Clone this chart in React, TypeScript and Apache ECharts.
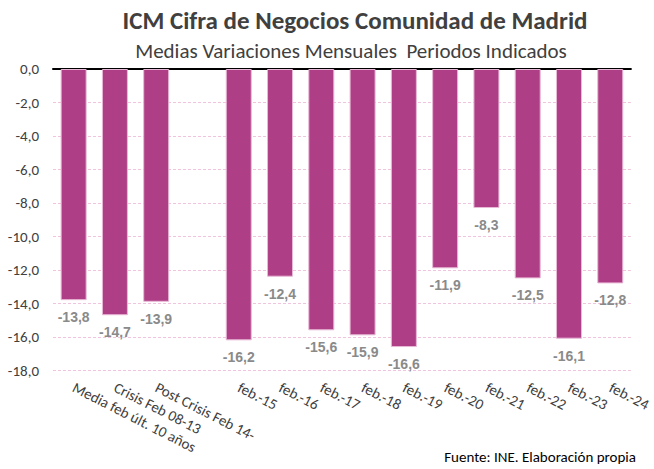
import React, { useEffect, useRef } from "react";
import * as echarts from "echarts";

const categories = [
  "Media feb últ. 10 años",
  "Crisis Feb 08-13",
  "Post Crisis Feb 14-",
  "",
  "feb.-15",
  "feb.-16",
  "feb.-17",
  "feb.-18",
  "feb.-19",
  "feb.-20",
  "feb.-21",
  "feb.-22",
  "feb.-23",
  "feb.-24",
];
const values: (number | null)[] = [
  -13.8, -14.7, -13.9, null, -16.2, -12.4, -15.6, -15.9, -16.6, -11.9, -8.3, -12.5, -16.1, -12.8,
];
const titleText = "ICM Cifra de Negocios Comunidad de Madrid";
const subtitleText = "Medias Variaciones Mensuales  Periodos Indicados";
const sourceText = "Fuente: INE. Elaboración propia";

const FONT = "Carlito, 'Liberation Sans Narrow', 'Open Sans', sans-serif";

export default function App() {
  const ref = useRef<HTMLDivElement>(null);
  useEffect(() => {
    if (!ref.current) return;
    const chart = echarts.init(ref.current, undefined, { renderer: "svg" });
    chart.setOption({
      animation: false,
      backgroundColor: "#ffffff",
      textStyle: { fontFamily: FONT },
      title: [
        {
          text: titleText,
          left: 350,
          top: 3,
          textAlign: "center",
          textStyle: { fontFamily: FONT, fontSize: 25, fontWeight: "bold", color: "#404040" },
        },
        {
          text: subtitleText,
          left: 346,
          top: 35,
          textAlign: "center",
          textStyle: { fontFamily: FONT, fontSize: 21, fontWeight: "normal", color: "#404040" },
        },
      ],
      graphic: [
        {
          type: "text",
          right: 18,
          top: 449,
          style: { text: sourceText, font: `15px ${FONT}`, fill: "#000000" },
        },
      ],
      grid: { left: 53, right: 22, top: 69, bottom: 98.5, containLabel: false },
      xAxis: [
        {
          type: "category",
          data: categories,
          position: "top",
          axisLine: { show: true, onZero: false, lineStyle: { color: "#000000", width: 2 } },
          axisTick: { show: false },
          axisLabel: { show: false },
        },
        {
          type: "category",
          data: categories,
          position: "bottom",
          axisLine: { show: false, onZero: false },
          axisTick: { show: false },
          axisLabel: {
            interval: 0,
            rotate: -27,
            margin: 16,
            color: "#404040",
            fontSize: 15,
            fontFamily: FONT,
          },
        },
      ],
      yAxis: {
        type: "value",
        min: -18,
        max: 0,
        interval: 2,
        axisLine: { show: false },
        axisTick: { show: false },
        axisLabel: {
          formatter: (v: number) => v.toFixed(1).replace(".", ","),
          color: "#404040",
          fontSize: 15,
          fontFamily: FONT,
          margin: 14,
        },
        splitLine: {
          show: true,
          lineStyle: { color: "#f0c4df", type: [3, 2], width: 1 },
        },
      },
      series: [
        {
          type: "bar",
          xAxisIndex: 0,
          data: values,
          barCategoryGap: "37%",
          itemStyle: { color: "#ae3f86", borderColor: "#e8b9d6", borderWidth: 1 },
          label: {
            show: true,
            position: "bottom",
            distance: 10,
            formatter: (p: any) => (p.value == null ? "" : Number(p.value).toFixed(1).replace(".", ",")),
            color: "#8a8a8a",
            fontWeight: "bold",
            fontSize: 14,
            fontFamily: "'Liberation Sans', Arial, sans-serif",
          },
        },
      ],
    } as any);
    return () => chart.dispose();
  }, []);
  return <div ref={ref} style={{ width: 654, height: 469, position: "absolute", left: 0, top: 0 }} />;
}
